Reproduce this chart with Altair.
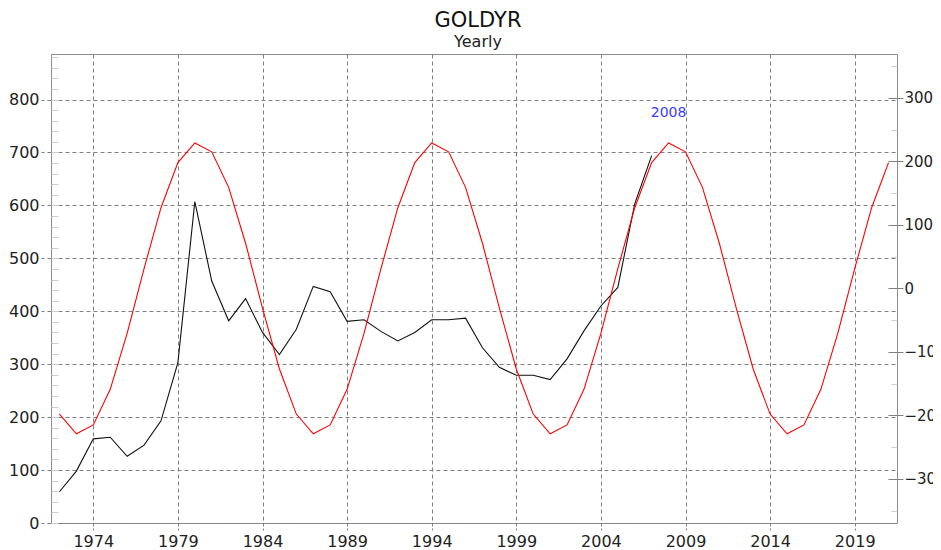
import altair as alt
import pandas as pd

# ---- data ----
gold_years = list(range(1972, 2008))
gold_price = [59, 98, 159, 162, 126, 147, 193, 303, 607, 457,
              382, 424, 360, 318, 366, 447, 437, 381, 384, 362,
              344, 360, 384, 384, 387, 331, 294, 279, 279, 271,
              310, 363, 410, 445, 603, 694]

cycle_years = list(range(1972, 2022))
cycle_value = [-198, -229, -215, -159, -71, 31, 127, 198, 229, 215,
               159, 71, -31, -127, -198, -229, -215, -159, -71, 31,
               127, 198, 229, 215, 159, 71, -31, -127, -198, -229,
               -215, -159, -71, 31, 127, 198, 229, 215, 159, 71,
               -31, -127, -198, -229, -215, -159, -71, 31, 127, 198]

year_ticks = [1974, 1979, 1984, 1989, 1994, 1999, 2004, 2009, 2014, 2019]
left_ticks = [0, 100, 200, 300, 400, 500, 600, 700, 800]
right_ticks = [-300, -200, -100, 0, 100, 200, 300]
left_minor = list(range(0, 881, 20))
right_minor = [-350, -250, -150, -50, 50, 150, 250, 350]

note_year = [2008]
note_value = [775]
note_text = ["2008"]

# ---- tables ----
gold_df = pd.DataFrame({"year": gold_years, "price": gold_price})
cyc_df = pd.DataFrame({"year": cycle_years, "cycle": cycle_value})
lm_df = pd.DataFrame({"v": left_minor})
rm_df = pd.DataFrame({"v": right_minor})
note_df = pd.DataFrame({"year": note_year, "value": note_value, "label": note_text})

FONT = "DejaVu Sans"
GRID = "#808080"
LBL = 16

xscale = alt.Scale(domain=[1971.5, 2021.5], nice=False, zero=False)
lscale = alt.Scale(domain=[0, 886], nice=False, zero=False)
rscale = alt.Scale(domain=[-369.5, 369], nice=False, zero=False)

xaxis = alt.Axis(values=year_ticks, format="d", grid=True, gridDash=[4, 3],
                 gridColor=GRID, gridWidth=1, tickSize=7, tickDash=[3, 2],
                 tickColor=GRID, domain=False, labelFontSize=LBL, labelFont=FONT,
                 labelColor="#222222", labelPadding=3, title=None)

gold_line = alt.Chart(gold_df).mark_line(color="#111111", strokeWidth=1.1).encode(
    x=alt.X("year:Q", scale=xscale, axis=xaxis),
    y=alt.Y("price:Q", scale=lscale,
            axis=alt.Axis(orient="left", values=left_ticks, grid=True,
                          gridDash=[4, 3], gridColor=GRID, tickSize=10,
                          tickDash=[4, 3], tickColor=GRID, domain=False,
                          labelFontSize=LBL, labelFont=FONT, labelColor="#222222",
                          labelPadding=2, title=None)),
)

cycle_line = alt.Chart(cyc_df).mark_line(color="#ff0000", strokeWidth=1.1).encode(
    x=alt.X("year:Q", scale=xscale, axis=xaxis),
    y=alt.Y("cycle:Q", scale=rscale,
            axis=alt.Axis(orient="right", values=right_ticks, grid=False,
                          offset=-9, tickSize=15, tickColor=GRID, domain=False,
                          labelFontSize=15, labelFont=FONT, labelColor="#222222",
                          labelPadding=1, title=None)),
)

left_minor_ticks = alt.Chart(lm_df).mark_point(opacity=0).encode(
    y=alt.Y("v:Q", scale=lscale,
            axis=alt.Axis(orient="left", values=left_minor, offset=-7, tickSize=7,
                          tickColor="#cccccc", labels=False, domain=False,
                          grid=False, title=None)),
)

right_minor_ticks = alt.Chart(rm_df).mark_point(opacity=0).encode(
    y=alt.Y("v:Q", scale=rscale,
            axis=alt.Axis(orient="right", values=right_minor, offset=-6, tickSize=6,
                          tickColor="#cccccc", labels=False, domain=False,
                          grid=False, title=None)),
)

note = alt.Chart(note_df).mark_text(color="#3b3bff", fontSize=14, font=FONT).encode(
    x=alt.X("year:Q", scale=xscale, axis=xaxis),
    y=alt.Y("value:Q", scale=lscale, axis=None),
    text="label:N",
)

chart = alt.layer(
    gold_line, cycle_line, left_minor_ticks, right_minor_ticks, note
).resolve_scale(y="independent").properties(
    width=846,
    height=469,
    padding={"left": 43, "top": 46, "right": 36, "bottom": 30},
    autosize=alt.AutoSizeParams(type="none"),
    title=alt.Title("GOLDYR", subtitle="Yearly", fontSize=21, subtitleFontSize=16,
                    font=FONT, subtitleFont=FONT, fontWeight="normal",
                    anchor="middle", color="#111111", subtitleColor="#222222",
                    offset=4, dx=4, subtitlePadding=3),
).configure_view(stroke="#8c8c8c", strokeWidth=1)

chart.save("out.html", embed_options={"renderer": "svg", "actions": False})
